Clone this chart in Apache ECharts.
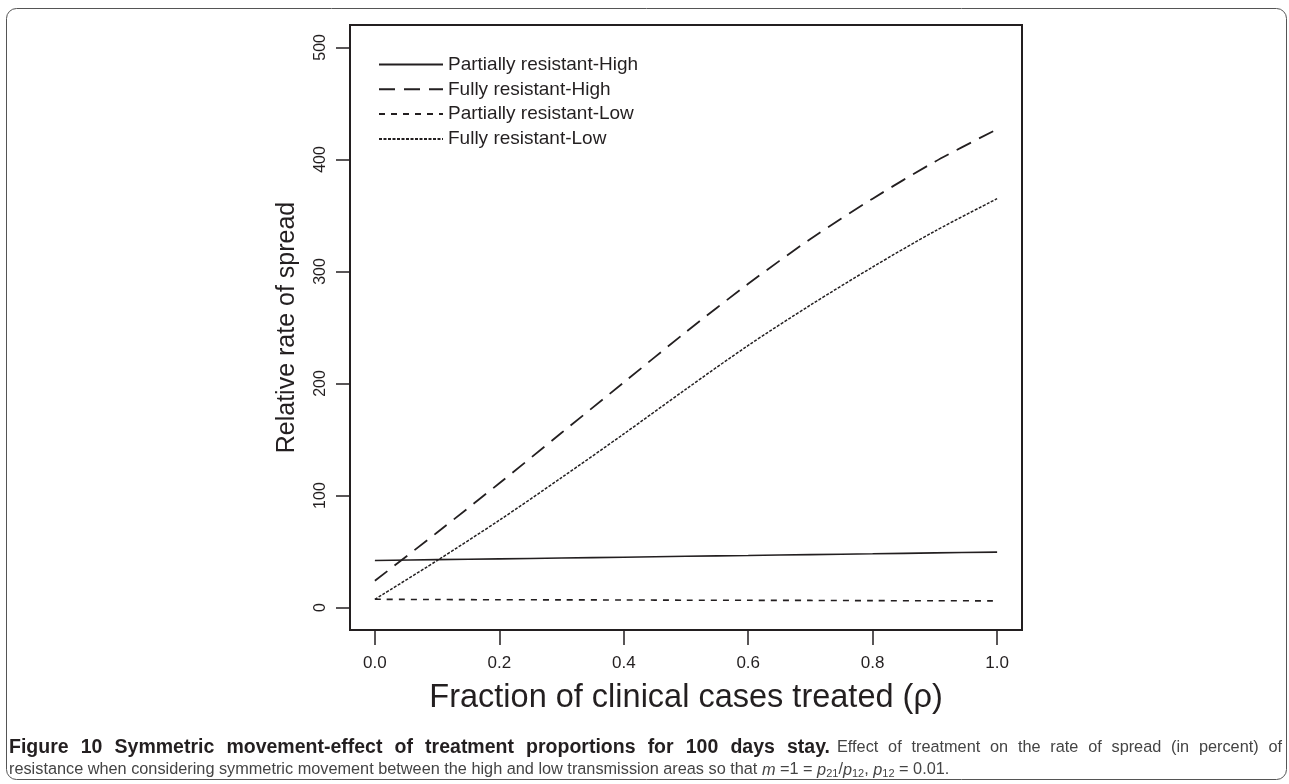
<!DOCTYPE html>
<html>
<head>
<meta charset="utf-8">
<script src="https://cdn.jsdelivr.net/npm/echarts@6/dist/echarts.min.js"></script>
<style>
html,body{margin:0;padding:0;background:#fff;}
#c{width:1289px;height:784px;}
</style>
</head>
<body>
<div id="c"></div>
<script>
// ---- data ----
const rho = [0.0, 0.1, 0.2, 0.3, 0.4, 0.5, 0.6, 0.7, 0.8, 0.9, 1.0];
const partiallyHigh = [42, 42.8, 43.5, 44.2, 45, 45.8, 46.5, 47.3, 48, 48.8, 49.5];
const fullyHigh = [24, 67, 111, 156, 201, 246, 289, 329, 365, 398, 427];
const partiallyLow = [7.4, 7.2, 7.0, 6.9, 6.8, 6.6, 6.5, 6.4, 6.2, 6.1, 6.0];
const fullyLow = [7.4, 42, 78, 116, 155, 195, 234, 270, 304, 336, 365];
const seriesNames = ['Partially resistant-High', 'Fully resistant-High', 'Partially resistant-Low', 'Fully resistant-Low'];
const xTicks = [0, 0.2, 0.4, 0.6, 0.8, 1.0];
const yTicks = [0, 100, 200, 300, 400, 500];
const captionBold = 'Figure 10 Symmetric movement-effect of treatment proportions for 100 days stay.';
const captionLine1 = 'Effect of treatment on the rate of spread (in percent) of';

const pairs = (ys) => rho.map((x, i) => [x, ys[i]]);
const ink = '#231f20';
const grey = '#444';
const capFont = 'Liberation Sans, Arial, sans-serif';

// justified first caption line, segment by segment (layout only)
const mctx = document.createElement('canvas').getContext('2d');
function justify(text, bold, size, x0, x1, y, color) {
  const ws = text.split(' ').map(w => {
    mctx.font = (bold ? 'bold ' : '') + size + 'px ' + capFont;
    return {w, width: mctx.measureText(w).width};
  });
  const sum = ws.reduce((a, o) => a + o.width, 0);
  const g = (x1 - x0 - sum) / (ws.length - 1);
  let cx = x0;
  return ws.map(o => {
    const item = {type: 'text', silent: true, x: cx, y: y,
      style: {text: o.w, fontSize: size, fontWeight: bold ? 'bold' : 'normal', fill: color, fontFamily: capFont}};
    cx += o.width + g;
    return item;
  });
}
const captionGraphics = [
  ...justify(captionBold, true, 19.5, 9, 830, 737.5, ink),
  ...justify(captionLine1, false, 16.3, 837, 1282, 739.5, grey)
];

const chart = echarts.init(document.getElementById('c'), null, {renderer: 'canvas'});
const lineSeries = (name, ys, type, width) => ({
  name: name,
  type: 'line',
  data: pairs(ys),
  smooth: 0.3,
  symbol: 'none',
  showSymbol: false,
  lineStyle: {color: ink, width: width, type: type},
  itemStyle: {color: ink},
  emphasis: {disabled: true},
  animation: false
});

chart.setOption({
  animation: false,
  backgroundColor: '#fff',
  grid: {left: 350, right: 267, top: 25, bottom: 154, containLabel: false,
         show: true, borderColor: ink, borderWidth: 2, backgroundColor: 'transparent'},
  xAxis: {
    type: 'value', min: -0.04, max: 1.04,
    axisLine: {show: false, onZero: false},
    axisTick: {show: true, inside: false, length: 15, customValues: xTicks, lineStyle: {color: ink, width: 1.5}},
    splitLine: {show: false},
    axisLabel: {
      margin: 25, color: ink, fontSize: 17, fontFamily: capFont,
      customValues: xTicks,
      formatter: v => v.toFixed(1)
    },
    name: 'Fraction of clinical cases treated (\u03c1)',
    nameLocation: 'middle', nameGap: 52,
    nameTextStyle: {color: ink, fontSize: 32.5, fontFamily: 'Liberation Sans, Arial, sans-serif'}
  },
  yAxis: {
    type: 'value', min: -20, max: 520,
    axisLine: {show: false, onZero: false},
    axisTick: {show: true, inside: false, length: 14, customValues: yTicks, lineStyle: {color: ink, width: 1.5}},
    splitLine: {show: false},
    axisLabel: {
      margin: 21, color: ink, fontSize: 16, rotate: 90, fontFamily: capFont,
      customValues: yTicks
    },
    name: 'Relative rate of spread',
    nameLocation: 'middle', nameGap: 50, nameRotate: 90,
    nameTextStyle: {color: ink, fontSize: 25, fontFamily: 'Liberation Sans, Arial, sans-serif'}
  },
  legend: {
    orient: 'vertical', left: 373, top: 50,
    itemWidth: 64, itemHeight: 14, itemGap: 5.8,
    data: seriesNames,
    itemStyle: {opacity: 0},
    textStyle: {color: ink, fontSize: 19, fontFamily: 'Liberation Sans, Arial, sans-serif', padding: [0, 0, 0, 0]},
    selectedMode: false
  },
  series: [
    lineSeries(seriesNames[0], partiallyHigh, 'solid', 1.6),
    lineSeries(seriesNames[1], fullyHigh, [16, 9], 1.8),
    lineSeries(seriesNames[2], partiallyLow, [6, 6], 1.6),
    lineSeries(seriesNames[3], fullyLow, [3, 1.5], 1.5)
  ],
  graphic: [
    {type: 'rect', silent: true, z: 100,
     shape: {x: 6.5, y: 8.5, width: 1280, height: 771, r: 10},
     style: {fill: 'none', stroke: '#555', lineWidth: 1}},
    ...captionGraphics,
    {type: 'text', silent: true, left: 9, top: 762,
     style: {
       rich: {
         n: {fontSize: 16.3, fill: grey, fontFamily: capFont},
         i: {fontSize: 16.3, fill: grey, fontStyle: 'italic', fontFamily: capFont},
         s: {fontSize: 11, fill: grey, fontFamily: capFont, padding: [7, 0, 0, 0]}
       },
       text: '{n|resistance when considering symmetric movement between the high and low transmission areas so that }{i|m}{n| =1 = }{i|p}{s|21}{n|/}{i|p}{s|12}{n|, }{i|p}{s|12}{n| = 0.01.}'
     }}
  ]
});
</script>
</body>
</html>
